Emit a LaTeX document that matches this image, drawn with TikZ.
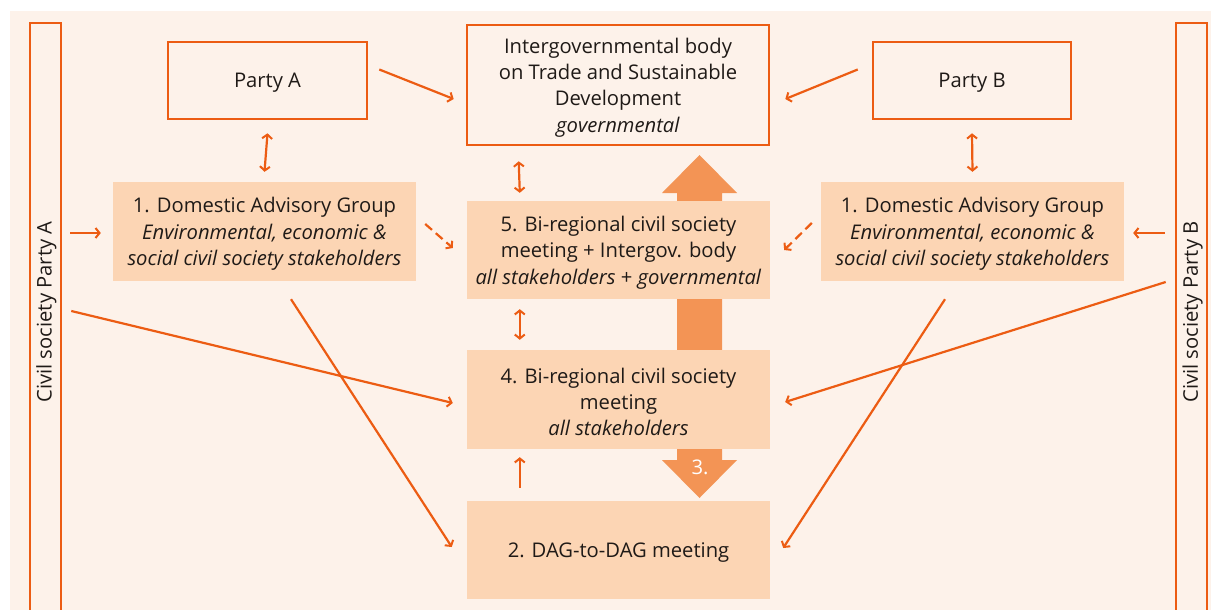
\documentclass[tikz,border=0pt]{standalone}
\usepackage{fontspec}
\setmainfont{Open Sans}
\usetikzlibrary{arrows.meta,calc}
\definecolor{bgc}{HTML}{FDF2EA}
\definecolor{fc}{HTML}{FCD5B4}
\definecolor{lc}{HTML}{EC5C13}
\definecolor{ac}{HTML}{F39455}
\definecolor{tc}{HTML}{1F1A17}
\newcommand{\fz}{\fontsize{20.2}{26.4}\selectfont}
\begin{document}
\begin{tikzpicture}[x=1pt,y=-1pt,
  base/.style={text=tc,align=center,font=\fz,inner sep=0pt},
  outbox/.style={draw=lc,line width=2.6pt,inner sep=0pt},
  fillbox/.style={fill=fc,draw=none,inner sep=0pt},
  txt/.style={label={[base,yshift=-2.5pt]center:{#1}}},
  conn/.style={draw=lc,line width=2.2pt,-{Straight Barb[length=4pt,width=10pt,line width=2pt]}},
  dconn/.style={draw=lc,line width=2.2pt,{Straight Barb[length=4pt,width=10pt,line width=2pt]}-{Straight Barb[length=4pt,width=10pt,line width=2pt]}},
  dashconn/.style={conn,dash pattern=on 9pt off 5pt}]
\useasboundingbox (0,0) rectangle (1211,610);
\fill[bgc] (10,11) rectangle (1211,610);
% big arrows
\fill[ac] (677,350) -- (677,193) -- (662,193) -- (699.5,155) -- (737,193) -- (722,193) -- (722,350) -- cycle;
\fill[ac] (677,449) -- (677,460) -- (662,460) -- (699.5,498) -- (737,460) -- (722,460) -- (722,449) -- cycle;
\node[base,text=white] (three) at (700,467) {3.};
% side boxes
\node[outbox,minimum width=31pt,minimum height=620pt] (civA) at (45.5,333) {};
\node[outbox,minimum width=31pt,minimum height=620pt] (civB) at (1191.5,333) {};
\node[base,rotate=90] (civAl) at (46.5,312) {Civil society Party A};
\node[base,rotate=90] (civBl) at (1192.5,312) {Civil society Party B};
% top boxes
\node[outbox,minimum width=199pt,minimum height=77pt,txt={Party A}] (pA) at (267.5,80.5) {};
\node[outbox,minimum width=198pt,minimum height=77pt,txt={Party B}] (pB) at (972,80.5) {};
\node[outbox,minimum width=302pt,minimum height=120pt,
  txt={Intergovernmental body\\on Trade and Sustainable\\Development\\\textit{governmental}}] (ig) at (618,85) {};
% filled boxes
\node[fillbox,minimum width=303pt,minimum height=99pt,
  txt={1. Domestic Advisory Group\\\textit{Environmental, economic \&}\\\textit{social civil society stakeholders}}] (dagA) at (264.5,231.5) {};
\node[fillbox,minimum width=303pt,minimum height=99pt,
  txt={1. Domestic Advisory Group\\\textit{Environmental, economic \&}\\\textit{social civil society stakeholders}}] (dagB) at (972.5,231.5) {};
\node[fillbox,minimum width=303pt,minimum height=98pt,
  txt={5. Bi-regional civil society\\meeting + Intergov. body\\\textit{all stakeholders} + \textit{governmental}}] (b5) at (618.5,250) {};
\node[fillbox,minimum width=303pt,minimum height=99pt,
  txt={4. Bi-regional civil society\\meeting\\\textit{all stakeholders}}] (b4) at (618.5,399.5) {};
\node[fillbox,minimum width=303pt,minimum height=98pt,txt={2. DAG-to-DAG meeting}] (b2) at (618.5,550) {};
% free-end coordinates
\coordinate (cA1) at ($(civA.east |- dagA.west)+(8,1.5)$);
\coordinate (cA2) at ($(civA.east |- 0,311)+(9,0)$);
\coordinate (cB1) at ($(civB.west |- dagB.east)+(-10,1.5)$);
\coordinate (cB2) at ($(civB.west |- 0,282)+(-9,0)$);
% connectors
\draw[conn] ($(pA.east)+(11,-11)$) -- ($(ig.west)+(-12,14)$);
\draw[conn] ($(pB.west)+(-14,-11)$) -- ($(ig.east)+(15,14)$);
\draw[dconn] ($(pA.south)+(0,13)$) -- ($(dagA.north)+(0,-10)$);
\draw[dconn] ($(pB.south)+(0,13)$) -- ($(dagB.north)+(0,-10)$);
\draw[conn] (cA1) -- ($(dagA.west)+(-12,1.5)$);
\draw[conn] (cB1) -- ($(dagB.east)+(9,1.5)$);
\draw[dashconn] ($(dagA.east)+(9,-7.5)$) -- ($(b5.west)+(-14,-2)$);
\draw[dashconn] ($(dagB.west)+(-9,-8.5)$) -- ($(b5.east)+(14,0)$);
\draw[dconn] ($(ig.south west)+(53,15)$) -- ($(b5.north west)+(53,-8)$);
\draw[dconn] ($(b5.south west)+(53,10)$) -- ($(b4.north west)+(53,-10)$);
\draw[conn] ($(b2.north west)+(53,-13)$) -- ($(b4.south west)+(53,8)$);
\draw[conn] (cA2) -- ($(b4.west)+(-14,3.5)$);
\draw[conn] ($(dagA.south)+(26.5,18)$) -- ($(b2.west)+(-15,-3)$);
\draw[conn] (cB2) -- ($(b4.east)+(15,2.5)$);
\draw[conn] ($(dagB.south)+(-27.5,18)$) -- ($(b2.east)+(13,-2)$);
\end{tikzpicture}
\end{document}
